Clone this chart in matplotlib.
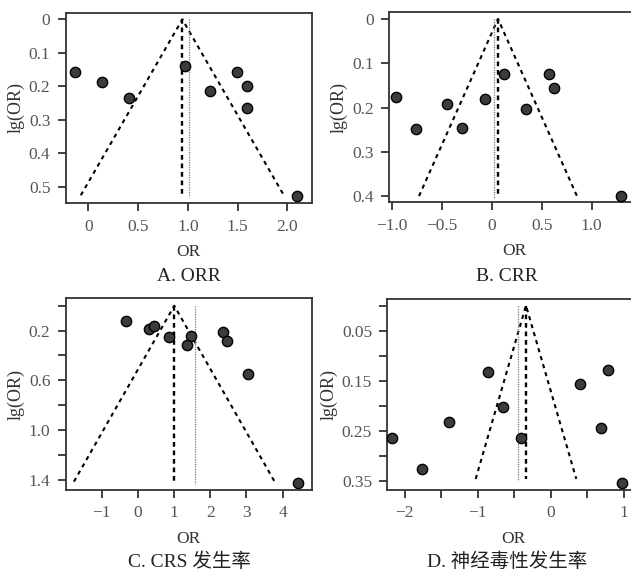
import matplotlib
matplotlib.use("Agg")
import matplotlib.pyplot as plt
import numpy as np

plt.rcParams['font.family'] = ['Liberation Serif', 'Noto Sans CJK SC', 'DejaVu Sans']
plt.rcParams['axes.unicode_minus'] = True

# ---------------- data ----------------
captions = ["A. ORR", "B. CRR", "C. CRS 发生率", "D. 神经毒性发生率"]

a_or = [-0.137, 0.134, 0.409, 0.975, 1.226, 1.491, 1.595, 1.592, 2.094]
a_lg = [0.157, 0.186, 0.235, 0.139, 0.214, 0.156, 0.199, 0.265, 0.528]

b_or = [-0.96, -0.757, -0.443, -0.30, -0.067, 0.127, 0.34, 0.577, 0.62, 1.29]
b_lg = [0.1755, 0.248, 0.191, 0.2456, 0.180, 0.124, 0.203, 0.125, 0.157, 0.400]

c_or = [-0.319, 0.298, 0.455, 0.869, 1.468, 1.357, 2.342, 2.471, 3.033, 4.414]
c_lg = [0.119, 0.187, 0.162, 0.248, 0.243, 0.315, 0.208, 0.280, 0.546, 1.426]

d_or = [-2.172, -1.77, -1.395, -0.864, -0.654, -0.407, 0.407, 0.695, 0.791, 0.974]
d_lg = [0.2636, 0.326, 0.233, 0.133, 0.203, 0.264, 0.156, 0.245, 0.129, 0.354]

# funnel: pooled estimate, half width at funnel base, base depth, dotted reference line
pooled = [0.945, 0.063, 1.007, -0.338]
half_width = [1.02, 0.79, 2.77, 0.69]
base_lg = [0.525, 0.40, 1.416, 0.346]
dotted_x = [1.012, 0.023, 1.587, -0.443]

a_xticks = [0, 0.5, 1.0, 1.5, 2.0]
a_xlabels = ["0", "0.5", "1.0", "1.5", "2.0"]
a_yticks = [0, 0.1, 0.2, 0.3, 0.4, 0.5]
a_ylabels = ["0", "0.1", "0.2", "0.3", "0.4", "0.5"]

b_xticks = [-1.0, -0.5, 0, 0.5, 1.0]
b_xlabels = ["\u22121.0", "\u22120.5", "0", "0.5", "1.0"]
b_yticks = [0, 0.1, 0.2, 0.3, 0.4]
b_ylabels = ["0", "0.1", "0.2", "0.3", "0.4"]

c_xticks = [-1, 0, 1, 2, 3, 4]
c_xlabels = ["\u22121", "0", "1", "2", "3", "4"]
c_yticks = [0, 0.2, 0.4, 0.6, 0.8, 1.0, 1.2, 1.4]
c_ylabels = ["", "0.2", "", "0.6", "", "1.0", "", "1.4"]

d_xticks = [-2, -1.5, -1, -0.5, 0, 0.5, 1]
d_xlabels = ["\u22122", "", "\u22121", "", "0", "", "1"]
d_yticks = [0, 0.05, 0.1, 0.15, 0.2, 0.25, 0.3, 0.35]
d_ylabels = ["", "0.05", "", "0.15", "", "0.25", "", "0.35"]

W, H = 631, 574
fig = plt.figure(figsize=(W / 100, H / 100), dpi=100)

def px_axes(left, top, right, bottom):
    return fig.add_axes([left / W, 1 - bottom / H, (right - left) / W, (bottom - top) / H])

axes = [
    px_axes(65.7, 12.7, 311.7, 203.3),
    px_axes(389.0, 12.3, 640.0, 202.3),
    px_axes(65.7, 298.3, 311.7, 490.0),
    px_axes(387.3, 299.0, 640.0, 490.0),
]
xlims = [(-0.227, 2.245), (-1.027, 1.483), (-1.99, 4.80), (-2.24, 1.226)]
ylims = [(0.549, -0.02), (0.414, -0.015), (1.483, -0.06), (0.368, -0.013)]
xs = [a_or, b_or, c_or, d_or]
ys = [a_lg, b_lg, c_lg, d_lg]
xt = [(a_xticks, a_xlabels), (b_xticks, b_xlabels), (c_xticks, c_xlabels), (d_xticks, d_xlabels)]
yt = [(a_yticks, a_ylabels), (b_yticks, b_ylabels), (c_yticks, c_ylabels), (d_yticks, d_ylabels)]
cap_x = [189, 507, 189, 507]
cap_y = [277, 277, 562, 562]

for i, ax in enumerate(axes):
    p, hw, yb, dx = pooled[i], half_width[i], base_lg[i], dotted_x[i]
    # funnel sides
    ax.plot([p - hw, p, p + hw], [yb, 0, yb], color='black', lw=1.5,
            linestyle=(0, (2, 2)), zorder=2)
    # pooled estimate vertical
    ax.plot([p, p], [0, yb], color='black', lw=1.7, linestyle=(0, (2, 1.6)), zorder=2)
    # dotted reference
    ax.plot([dx, dx], [0, yb + 0.01 * (ylims[i][0])], color='#777777', lw=0.9,
            linestyle=(0, (1, 1)), zorder=2)
    ax.scatter(xs[i], ys[i], s=55, facecolor='#3c3c3c', edgecolor='black',
               linewidths=1.0, zorder=3, clip_on=False)
    ax.set_xlim(*xlims[i])
    ax.set_ylim(*ylims[i])
    ax.set_xticks(xt[i][0])
    ax.set_xticklabels(xt[i][1])
    ax.set_yticks(yt[i][0])
    ax.set_yticklabels(yt[i][1])
    ax.tick_params(direction='out', length=6, width=1.3, color='#333333',
                   labelcolor='#555555', labelsize=12.5, pad=5)
    for s in ax.spines.values():
        s.set_color('#333333')
        s.set_linewidth(1.3)
    ax.set_xlabel("OR", fontsize=12.5, color='#333333', labelpad=7)
    ax.set_ylabel("lg(OR)", fontsize=13, color='#333333', labelpad=3)
    fig.text(cap_x[i] / W, 1 - cap_y[i] / H, captions[i], ha='center', va='center',
             fontsize=14, color='#222222')

fig.savefig("out.png", dpi=100)
